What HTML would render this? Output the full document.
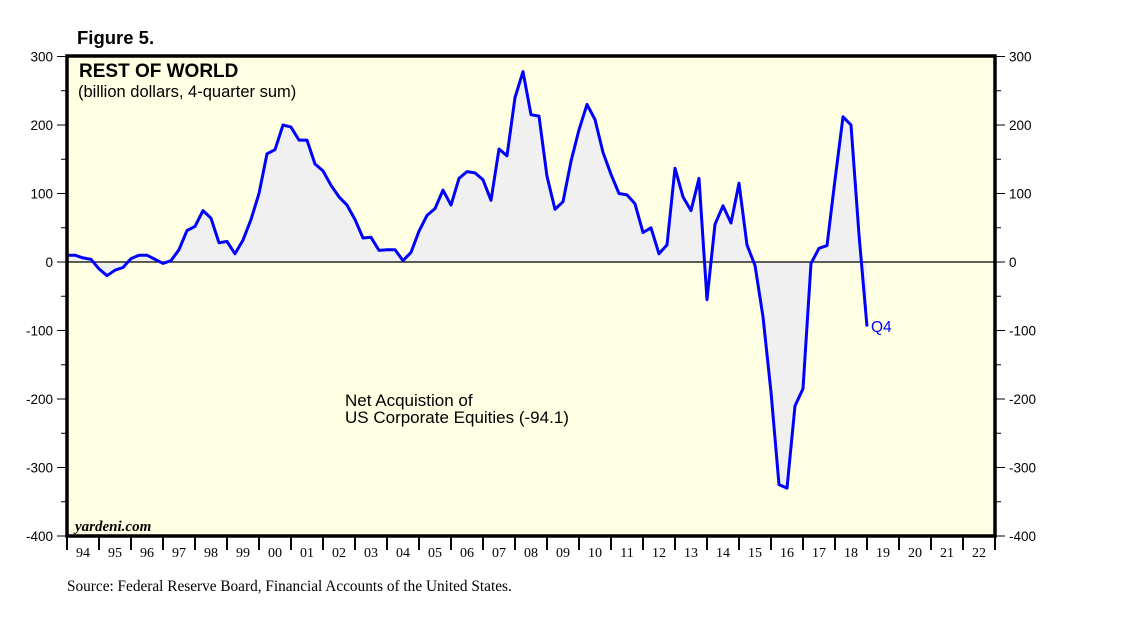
<!DOCTYPE html>
<html><head><meta charset="utf-8"><style>
body{margin:0;background:#fff;}
svg{display:block;font-family:"Liberation Sans",sans-serif;}
</style></head><body>
<svg id="chart" width="1138" height="621" viewBox="0 0 1138 621">
<text x="77" y="44" font-size="18.5" font-weight="bold">Figure 5.</text>
<rect x="67" y="56" width="928" height="480" fill="#ffffe3"/>
<g id="fillg"></g>
<line x1="67" x2="995" y1="262" y2="262" stroke="#000" stroke-width="1.2"/>
<g id="lineg"></g>
<rect x="67" y="56" width="928" height="480" fill="none" stroke="#000" stroke-width="3.5"/>
<g id="axes"></g>
<text x="79" y="77" font-size="19" font-weight="bold">REST OF WORLD</text>
<text x="78" y="97" font-size="16.5">(billion dollars, 4-quarter sum)</text>
<text x="345" y="406" font-size="17">Net Acquistion of</text>
<text x="345" y="423" font-size="17">US Corporate Equities (-94.1)</text>
<text x="871" y="332" font-size="15.5" fill="#0000ff">Q4</text>
<text x="75" y="531" font-size="15" font-style="italic" font-weight="bold" font-family="Liberation Serif, serif">yardeni.com</text>
<text x="67" y="591" font-size="15.3" font-family="Liberation Serif, serif">Source: Federal Reserve Board, Financial Accounts of the United States.</text>
</svg>
<script>
const yTicks=[300,200,100,0,-100,-200,-300,-400];
const yearLabels=["94","95","96","97","98","99","00","01","02","03","04","05","06","07","08","09","10","11","12","13","14","15","16","17","18","19","20","21","22"];
const startYear=1994; // first value = 1993 Q4
const values=[10,
10,6,4,-10,
-20,-12,-8,5,
10,10,4,-2,
2,18,46,52,
75,64,28,30,
12,32,62,100,
158,164,200,197,
178,178,143,133,
112,95,83,62,
35,36,17,18,
18,2,14,45,
68,78,105,83,
122,132,130,120,
90,165,155,240,
278,215,213,125,
77,88,147,193,
230,208,160,128,
100,98,85,43,
50,12,25,137,
95,75,122,-55,
55,82,57,115,
25,-5,-80,-190,
-325,-330,-210,-185,
-2,20,24,120,
212,200,40,-94.1];
const NS="http://www.w3.org/2000/svg";
const X0=67,YW=32,Y0=262,K=274/400;
const xs=i=>X0+i*YW/4;
const ys=v=>Y0-v*K;
function mk(t,a,p){const e=document.createElementNS(NS,t);for(const k in a)e.setAttribute(k,a[k]);p.appendChild(e);return e;}
const axes=document.getElementById('axes');
for(let v=-400;v<=300;v+=50){
  const y=ys(v),big=v%100===0;
  const l=mk('line',{x1:X0-(big?10:6),x2:X0,y1:y,y2:y,stroke:'#000','stroke-width':1},axes);
  
  
  const r=mk('line',{x1:995,x2:995+(big?10:6),y1:y,y2:y,stroke:'#000','stroke-width':1},axes);
  
  
}
yTicks.forEach(v=>{
  const t=mk('text',{x:53,y:ys(v)+5,'font-size':13.5,'text-anchor':'end'},axes);t.textContent=v;
  
  
  const t2=mk('text',{x:1009,y:ys(v)+5,'font-size':13.5},axes);t2.textContent=v;
  
  
});
yearLabels.forEach((lab,i)=>{
  const x=X0+i*YW;
  const l=mk('line',{x1:x,x2:x,y1:536,y2:550,stroke:'#000','stroke-width':2},axes);
  
  
  const t=mk('text',{x:x+YW/2,y:557,'font-size':14,'text-anchor':'middle','font-family':'Liberation Serif, serif'},axes);t.textContent=lab;
  
  
});
const le=mk('line',{x1:995,x2:995,y1:536,y2:550,stroke:'#000','stroke-width':2},axes);


const pts=values.map((v,i)=>xs(i).toFixed(1)+','+ys(v).toFixed(1));
const area=mk('polygon',{points:xs(0)+','+Y0+' '+pts.join(' ')+' '+xs(values.length-1)+','+Y0,fill:'#f0f0f0'},document.getElementById('fillg'));


const line=mk('polyline',{points:pts.join(' '),fill:'none',stroke:'#0000ff','stroke-width':3,'stroke-linejoin':'round'},document.getElementById('lineg'));


</script>
</body></html>
